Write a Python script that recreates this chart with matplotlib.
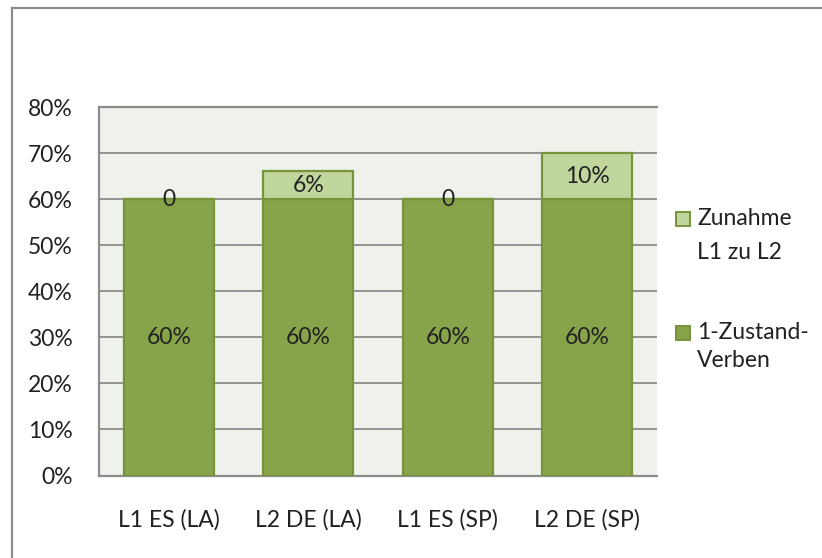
import matplotlib
matplotlib.use("Agg")
import matplotlib.pyplot as plt
from matplotlib.patches import Rectangle
from matplotlib.lines import Line2D

categories = ["L1 ES (LA)", "L2 DE (LA)", "L1 ES (SP)", "L2 DE (SP)"]
base_values = [60, 60, 60, 60]
increase_values = [0, 6, 0, 10]
base_labels = ["60%", "60%", "60%", "60%"]
increase_labels = ["0", "6%", "0", "10%"]
yticks = [0, 10, 20, 30, 40, 50, 60, 70, 80]
ytick_labels = ["0%", "10%", "20%", "30%", "40%", "50%", "60%", "70%", "80%"]
legend_labels = ["Zunahme\nL1 zu L2", "1-Zustand-\nVerben"]

plt.rcParams['font.family'] = ['Lato', 'DejaVu Sans']

W, H = 822, 558
FS = 16.5
TXT = "#222222"
fig = plt.figure(figsize=(W / 100, H / 100), dpi=100)
fig.patch.set_facecolor("white")

# outer chart frame (top and left visible)
fig.add_artist(Line2D([12 / W, 12 / W], [0, 1 - 7.5 / H], transform=fig.transFigure,
                      color="#8c8c8c", lw=1.6))
fig.add_artist(Line2D([12 / W, 1], [1 - 7.5 / H, 1 - 7.5 / H], transform=fig.transFigure,
                      color="#8c8c8c", lw=1.6))

left, right, top, bottom = 99, 657, 107, 475.5
ax = fig.add_axes([left / W, 1 - bottom / H, (right - left) / W, (bottom - top) / H])
ax.set_facecolor("#eff2ea")

dark = "#88a44a"
light = "#c0d69c"
edge = "#77933c"
x = list(range(len(categories)))
width = 0.645

ax.bar(x, base_values, width=width, color=dark, edgecolor=edge, linewidth=1.6, zorder=3)
ax.bar(x, increase_values, width=width, bottom=base_values, color=light, edgecolor=edge,
       linewidth=1.6, zorder=3)

for i in x:
    ax.text(i, base_values[i] / 2, base_labels[i], ha="center", va="center",
            fontsize=FS, color=TXT, zorder=5)
    ax.text(i, base_values[i] + increase_values[i] / 2, increase_labels[i], ha="center",
            va="center", fontsize=FS, color=TXT, zorder=5)

ax.set_xlim(-0.5, len(categories) - 0.5)
ax.set_ylim(0, 80)
ax.set_yticks(yticks)
ax.set_yticklabels(ytick_labels, fontsize=FS, color=TXT)
ax.set_xticks(x)
ax.set_xticklabels(categories, fontsize=FS, color=TXT)
ax.tick_params(axis="y", length=0, pad=19)
ax.tick_params(axis="x", length=0, pad=24)
ax.yaxis.grid(True, color="#8c8c8c", linewidth=1.3, zorder=1)
ax.set_axisbelow(True)
for side in ["top", "right"]:
    ax.spines[side].set_visible(False)
for side in ["left", "bottom"]:
    ax.spines[side].set_color("#8c8c8c")
    ax.spines[side].set_linewidth(1.6)
ax.axhline(80, color="#8c8c8c", linewidth=1.6, zorder=2, clip_on=False)

# legend drawn manually
legend_colors = [light, dark]
legend_y = [219, 333]
legend_spacing = [1.75, 1.4]
for lbl, col, yc, ls in zip(legend_labels, legend_colors, legend_y, legend_spacing):
    s = 14
    fig.add_artist(Rectangle(((683 - s / 2) / W, 1 - (yc + s / 2) / H), s / W, s / H,
                             transform=fig.transFigure, facecolor=col, edgecolor=edge,
                             linewidth=1.4))
    fig.text(697 / W, 1 - (yc - 11) / H, lbl, ha="left", va="top", fontsize=FS,
             color=TXT, linespacing=ls)

fig.savefig("out.png", dpi=100, facecolor="white")
